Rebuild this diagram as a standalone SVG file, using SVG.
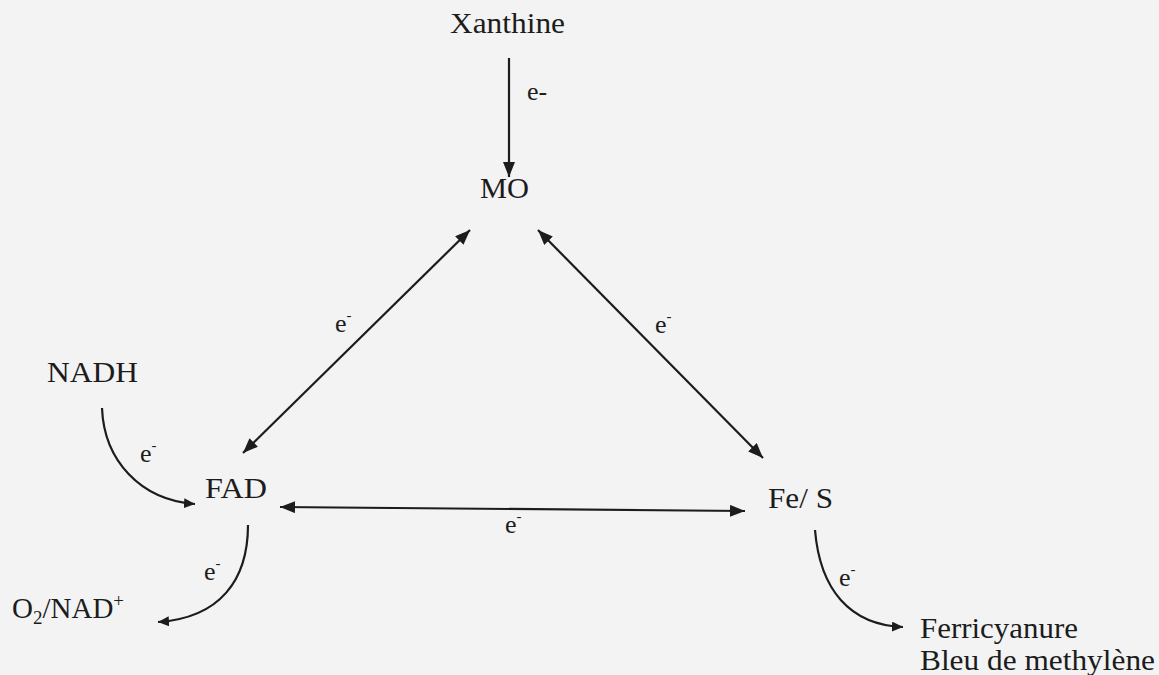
<svg xmlns="http://www.w3.org/2000/svg" width="1159" height="675" viewBox="0 0 1159 675">
<style>
.t{font-family:"Liberation Serif","Times New Roman",serif;font-size:29px;fill:#1c1c1c}
.e{font-family:"Liberation Serif","Times New Roman",serif;font-size:26px;fill:#1c1c1c}
.sup{font-size:15px}
.ln{fill:none;stroke:#1c1c1c;stroke-width:2.2}
</style>
<defs>
<marker id="ah" markerUnits="userSpaceOnUse" markerWidth="16" markerHeight="12" viewBox="0 0 16 12" refX="15" refY="6" orient="auto-start-reverse">
<path d="M0,0 L15,6 L0,12 z" fill="#1c1c1c"/>
</marker>
<marker id="ahs" markerUnits="userSpaceOnUse" markerWidth="12" markerHeight="10" viewBox="0 0 12 10" refX="11" refY="5" orient="auto">
<path d="M0,0 L11,5 L0,10 z" fill="#1c1c1c"/>
</marker>
</defs>
<rect width="1159" height="675" fill="#f3f3f3"/>
<g id="connectors">
<line class="ln" x1="509" y1="58" x2="509" y2="177" marker-end="url(#ah)"/>
<line class="ln" x1="243" y1="453" x2="470" y2="230" marker-start="url(#ah)" marker-end="url(#ah)"/>
<line class="ln" x1="538" y1="230" x2="763" y2="458" marker-start="url(#ah)" marker-end="url(#ah)"/>
<line class="ln" x1="280" y1="507" x2="745" y2="511" marker-start="url(#ah)" marker-end="url(#ah)"/>
<path class="ln" d="M102,408 C104,460 140,500 195,504" marker-end="url(#ahs)"/>
<path class="ln" d="M248,525 C248,580 220,618 158,622" marker-end="url(#ahs)"/>
<path class="ln" d="M815,530 C820,590 850,625 903,627" marker-end="url(#ahs)"/>
<text class="e" x="527" y="100">e-</text>
<text class="e" x="335" y="332">e<tspan class="sup" dy="-12">-</tspan></text>
<text class="e" x="655" y="333">e<tspan class="sup" dy="-12">-</tspan></text>
<text class="e" x="505" y="533">e<tspan class="sup" dy="-12">-</tspan></text>
<text class="e" x="140" y="462">e<tspan class="sup" dy="-12">-</tspan></text>
<text class="e" x="204" y="580">e<tspan class="sup" dy="-12">-</tspan></text>
<text class="e" x="839" y="586">e<tspan class="sup" dy="-12">-</tspan></text>
</g>
<g id="xanthine"><text class="t" x="450" y="33" textLength="115" lengthAdjust="spacingAndGlyphs">Xanthine</text></g>
<g id="mo"><text class="t" x="480" y="198" textLength="49" lengthAdjust="spacingAndGlyphs">MO</text></g>
<g id="nadh"><text class="t" x="47" y="382" textLength="91" lengthAdjust="spacingAndGlyphs">NADH</text></g>
<g id="fad"><text class="t" x="205" y="498" textLength="62" lengthAdjust="spacingAndGlyphs">FAD</text></g>
<g id="fes"><text class="t" x="768" y="508" textLength="65" lengthAdjust="spacingAndGlyphs">Fe/ S</text></g>
<g id="o2nad"><text class="t" x="12" y="618">O<tspan font-size="19" dy="6">2</tspan><tspan dy="-6">/NAD</tspan><tspan font-size="19" dy="-11">+</tspan></text></g>
<g id="acceptors">
<text class="t" x="920" y="638" textLength="158" lengthAdjust="spacingAndGlyphs">Ferricyanure</text>
<text class="t" x="920" y="670" textLength="235" lengthAdjust="spacingAndGlyphs">Bleu de methylène</text>
</g>
</svg>
